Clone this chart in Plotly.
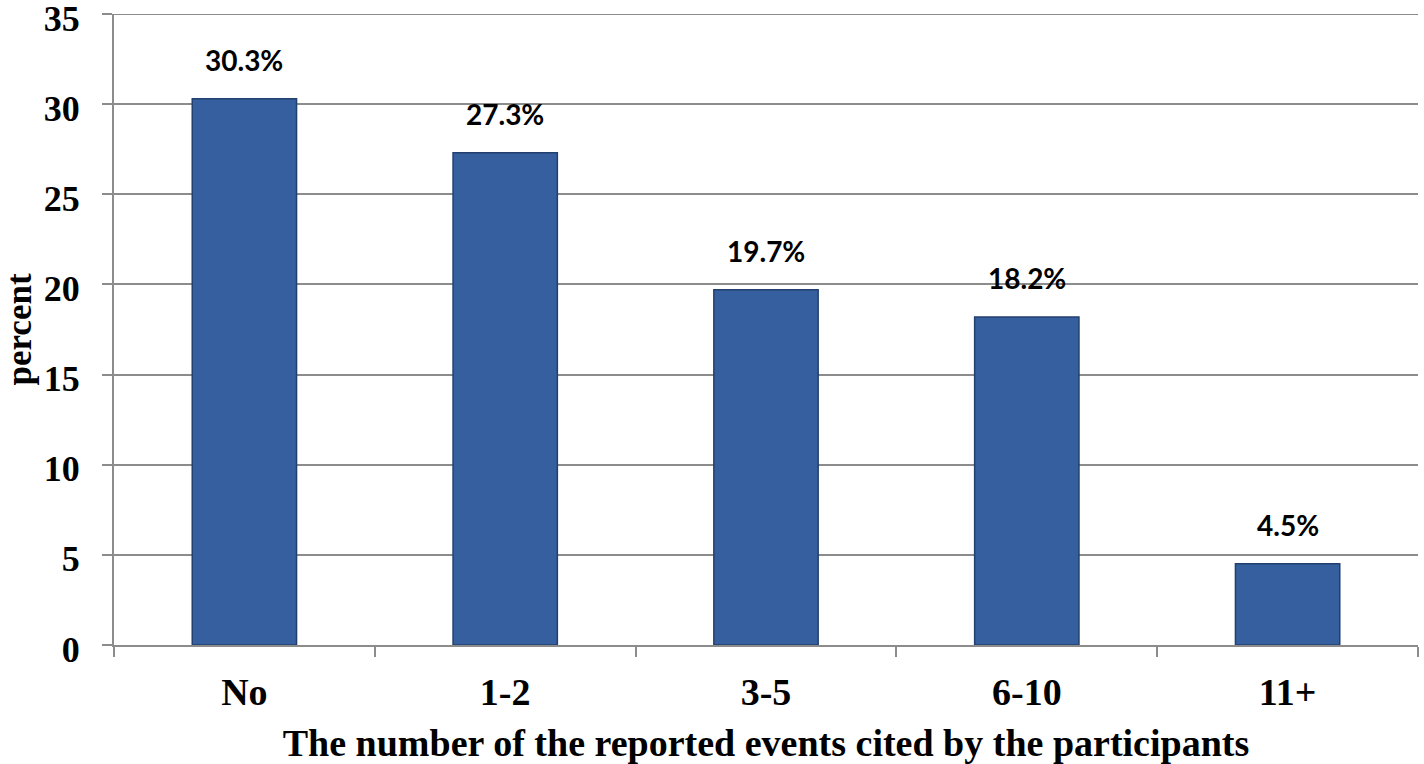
import plotly.graph_objects as go

categories = ["No", "1-2", "3-5", "6-10", "11+"]
values = [30.3, 27.3, 19.7, 18.2, 4.5]
labels = ["30.3%", "27.3%", "19.7%", "18.2%", "4.5%"]

serif = "Liberation Serif, Times New Roman, serif"

fig = go.Figure()
fig.add_trace(go.Bar(
    x=categories, y=values, width=0.4,
    marker=dict(color="#365F9F", line=dict(color="#22406F", width=1.5)),
    showlegend=False, hoverinfo="skip",
))
for c, v, t in zip(categories, values, labels):
    fig.add_annotation(x=c, y=v, text=t, showarrow=False, yshift=39,
                       font=dict(family="Lato, Open Sans, sans-serif", size=28,
                                 color="#000000", weight="bold"))

fig.update_layout(
    width=1424, height=764,
    margin=dict(l=114, r=6, t=14, b=119),
    paper_bgcolor="white", plot_bgcolor="white",
)
fig.update_xaxes(
    automargin=False,
    showline=True, linecolor="#8C8C8C", linewidth=2,
    ticks="outside", tickson="boundaries", ticklen=10, tickcolor="#8C8C8C", tickwidth=2,
    tickfont=dict(family=serif, size=38, color="#000000", weight="bold"),
    ticklabelstandoff=12,
    title=dict(text="The number of the reported events cited by the participants",
               font=dict(family=serif, size=38, color="#000000", weight="bold"), standoff=20),
    showgrid=False,
)
fig.update_yaxes(
    automargin=False,
    range=[0, 35], tickvals=[0, 5, 10, 15, 20, 25, 30, 35],
    ticklabeloverflow="allow", ticklabelshift=4,
    showline=True, linecolor="#8C8C8C", linewidth=2,
    ticks="outside", ticklen=10, tickcolor="#8C8C8C", tickwidth=2,
    showgrid=True, gridcolor="#8C8C8C", gridwidth=2,
    tickfont=dict(family=serif, size=36, color="#000000", weight="bold"),
    ticklabelstandoff=15,
    title=dict(text="percent", font=dict(family=serif, size=35, color="#000000", weight="bold"), standoff=16),
    zeroline=False,
)
# top gridline at the axis maximum (plotly omits it at the range edge)
fig.add_hline(y=35, line=dict(color="#8C8C8C", width=2), layer="below")
fig.write_html("out.html", config={"displayModeBar": False},
               post_script="document.body.style.margin='0';")
